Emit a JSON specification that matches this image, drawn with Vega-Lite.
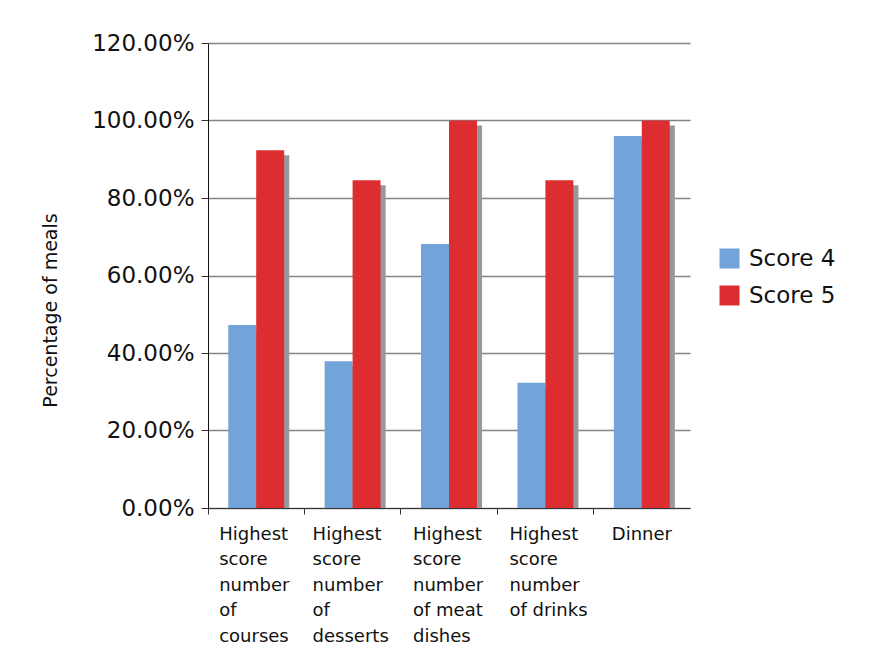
{
  "$schema": "https://vega.github.io/schema/vega-lite/v6.json",
  "width": 482,
  "height": 465,
  "autosize": {"type": "none"},
  "padding": {"left": 208, "top": 43, "right": 183, "bottom": 158},
  "background": "white",
  "config": {"font": "DejaVu Sans", "view": {"stroke": null}},
  "data": {
    "values": [
      {"category": "Highest score number of courses", "series": "Score 4", "value": 0.472},
      {"category": "Highest score number of courses", "series": "Score 5", "value": 0.923},
      {"category": "Highest score number of desserts", "series": "Score 4", "value": 0.379},
      {"category": "Highest score number of desserts", "series": "Score 5", "value": 0.846},
      {"category": "Highest score number of meat dishes", "series": "Score 4", "value": 0.681},
      {"category": "Highest score number of meat dishes", "series": "Score 5", "value": 1.0},
      {"category": "Highest score number of drinks", "series": "Score 4", "value": 0.323},
      {"category": "Highest score number of drinks", "series": "Score 5", "value": 0.846},
      {"category": "Dinner", "series": "Score 4", "value": 0.96},
      {"category": "Dinner", "series": "Score 5", "value": 1.0}
    ]
  },
  "encoding": {
    "x": {
      "field": "category",
      "type": "nominal",
      "sort": null,
      "scale": {"paddingInner": 0.42, "paddingOuter": 0.21},
      "axis": {
        "title": null,
        "bandPosition": -0.36,
        "labelAngle": 0,
        "labelAlign": "left",
        "labelBaseline": "top",
        "labelFontSize": 18,
        "labelColor": "#111111",
        "labelLineHeight": 25.5,
        "labelPadding": 11,
        "labelOffset": {
          "condition": [
            {"test": "datum.value === 'Dinner'", "value": -30},
            {"test": "datum.value === 'Highest score number of desserts'", "value": -40},
            {"test": "datum.value === 'Highest score number of courses'", "value": -37}
          ],
          "value": -36
        },
        "labelExpr": "datum.value == 'Dinner' ? 'Dinner' : datum.value == 'Highest score number of meat dishes' ? ['Highest','score','number','of meat','dishes'] : datum.value == 'Highest score number of drinks' ? ['Highest','score','number','of drinks'] : ['Highest','score','number','of', replace(datum.value, 'Highest score number of ', '')]",
        "tickSize": 6,
        "tickColor": "#333333",
        "domainColor": "#333333",
        "labelLimit": 0
      }
    },
    "y": {
      "field": "value",
      "type": "quantitative",
      "stack": null,
      "scale": {"domain": [0, 1.2]},
      "axis": {
        "values": [0, 0.2, 0.4, 0.6, 0.8, 1.0, 1.2],
        "format": ".2%",
        "labelFontSize": 23,
        "labelColor": "#111111",
        "labelPadding": 7,
        "tickSize": 7,
        "tickColor": "#333333",
        "domainColor": "#111111",
        "gridColor": "#858585",
        "gridWidth": 1.5,
        "title": "Percentage of meals",
        "titleFontSize": 19,
        "titleFontWeight": "normal",
        "titleColor": "#111111",
        "titleAngle": -90,
        "titleBaseline": "top",
        "titleAlign": "center",
        "titleX": -167,
        "titleY": 267
      }
    }
  },
  "layer": [
    {
      "mark": {"type": "bar", "color": "#97989b", "yOffset": 5},
      "encoding": {
        "xOffset": {"field": "series", "type": "nominal", "scale": {"range": [5, 61], "paddingInner": 0, "paddingOuter": 0}}
      }
    },
    {
      "mark": {"type": "bar"},
      "encoding": {
        "xOffset": {"field": "series", "type": "nominal", "scale": {"paddingInner": 0, "paddingOuter": 0}},
        "color": {
          "field": "series",
          "type": "nominal",
          "scale": {"domain": ["Score 4", "Score 5"], "range": ["#72a3d9", "#dd2d30"]},
          "legend": {
            "orient": "none",
            "legendX": 510,
            "legendY": 204,
            "title": null,
            "padding": 0,
            "symbolType": "square",
            "symbolSize": 400,
            "symbolStrokeWidth": 0,
            "labelFontSize": 23,
            "labelColor": "#111111",
            "labelOffset": 8,
            "rowPadding": 13
          }
        }
      }
    }
  ],
  "resolve": {"scale": {"xOffset": "independent"}}
}
